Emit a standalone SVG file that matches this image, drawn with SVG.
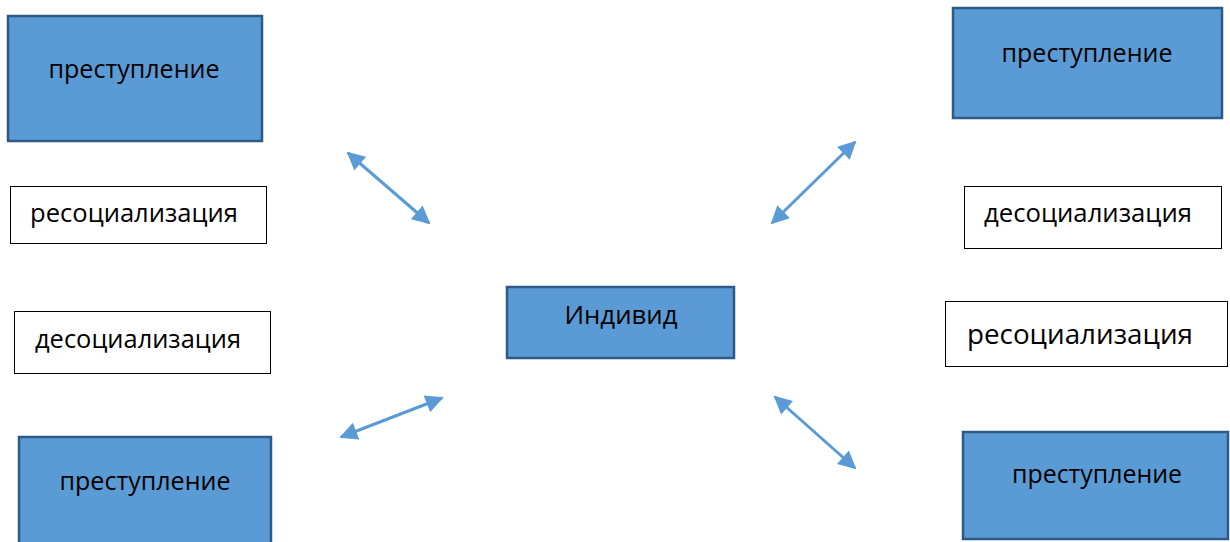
<svg xmlns="http://www.w3.org/2000/svg" width="1230" height="542" viewBox="0 0 1230 542">
<defs>
<style>
.blue{fill:#5B9BD5;stroke:#2F5A88;stroke-width:2.5}
.white{fill:#FFFFFF;stroke:#000000;stroke-width:1}
text{font-family:"Open Sans","Noto Sans","DejaVu Sans",sans-serif;font-size:25px;fill:#000;text-anchor:middle}
.conn{stroke:#5B9BD5;stroke-width:3;fill:none;marker-start:url(#ah);marker-end:url(#ah)}
</style>
<marker id="ah" viewBox="0 0 10 10" refX="9" refY="5" markerWidth="6.2" markerHeight="6" orient="auto-start-reverse" markerUnits="strokeWidth">
<path d="M0,0 L10,5 L0,10 z" fill="#5B9BD5"/>
</marker>
</defs>
<rect width="1230" height="542" fill="#FFFFFF"/>
<g id="crime-tl"><rect class="blue" x="8" y="16" width="254" height="125"/><text x="134" y="78" textLength="171" lengthAdjust="spacingAndGlyphs">преступление</text></g>
<g id="resoc-l"><rect class="white" x="10.5" y="186.5" width="256" height="57"/><text x="134" y="222" textLength="208" lengthAdjust="spacingAndGlyphs">ресоциализация</text></g>
<g id="desoc-l"><rect class="white" x="14.5" y="311.5" width="256" height="62"/><text x="138" y="348" textLength="206" lengthAdjust="spacingAndGlyphs">десоциализация</text></g>
<g id="crime-bl"><rect class="blue" x="19" y="437" width="252" height="110"/><text x="145" y="490" textLength="171" lengthAdjust="spacingAndGlyphs">преступление</text></g>
<g id="individ"><rect class="blue" x="507" y="287" width="227" height="71"/><text x="621" y="324" textLength="113" lengthAdjust="spacingAndGlyphs">Индивид</text></g>
<g id="crime-tr"><rect class="blue" x="953" y="8" width="269" height="110"/><text x="1087" y="62" textLength="171" lengthAdjust="spacingAndGlyphs">преступление</text></g>
<g id="desoc-r"><rect class="white" x="964.5" y="186.5" width="257" height="62"/><text x="1088" y="222" textLength="208" lengthAdjust="spacingAndGlyphs">десоциализация</text></g>
<g id="resoc-r"><rect class="white" x="945.5" y="301.5" width="282" height="65"/><text x="1080" y="344" style="font-size:27px" textLength="226" lengthAdjust="spacingAndGlyphs">ресоциализация</text></g>
<g id="crime-br"><rect class="blue" x="963" y="432" width="265" height="107"/><text x="1097" y="483" textLength="170" lengthAdjust="spacingAndGlyphs">преступление</text></g>
<g id="connectors">
<line class="conn" x1="348" y1="153" x2="429" y2="223"/>
<line class="conn" x1="341" y1="437" x2="442" y2="398"/>
<line class="conn" x1="855" y1="142" x2="772" y2="223"/>
<line class="conn" x1="775" y1="397" x2="855" y2="468"/>
</g>
</svg>
